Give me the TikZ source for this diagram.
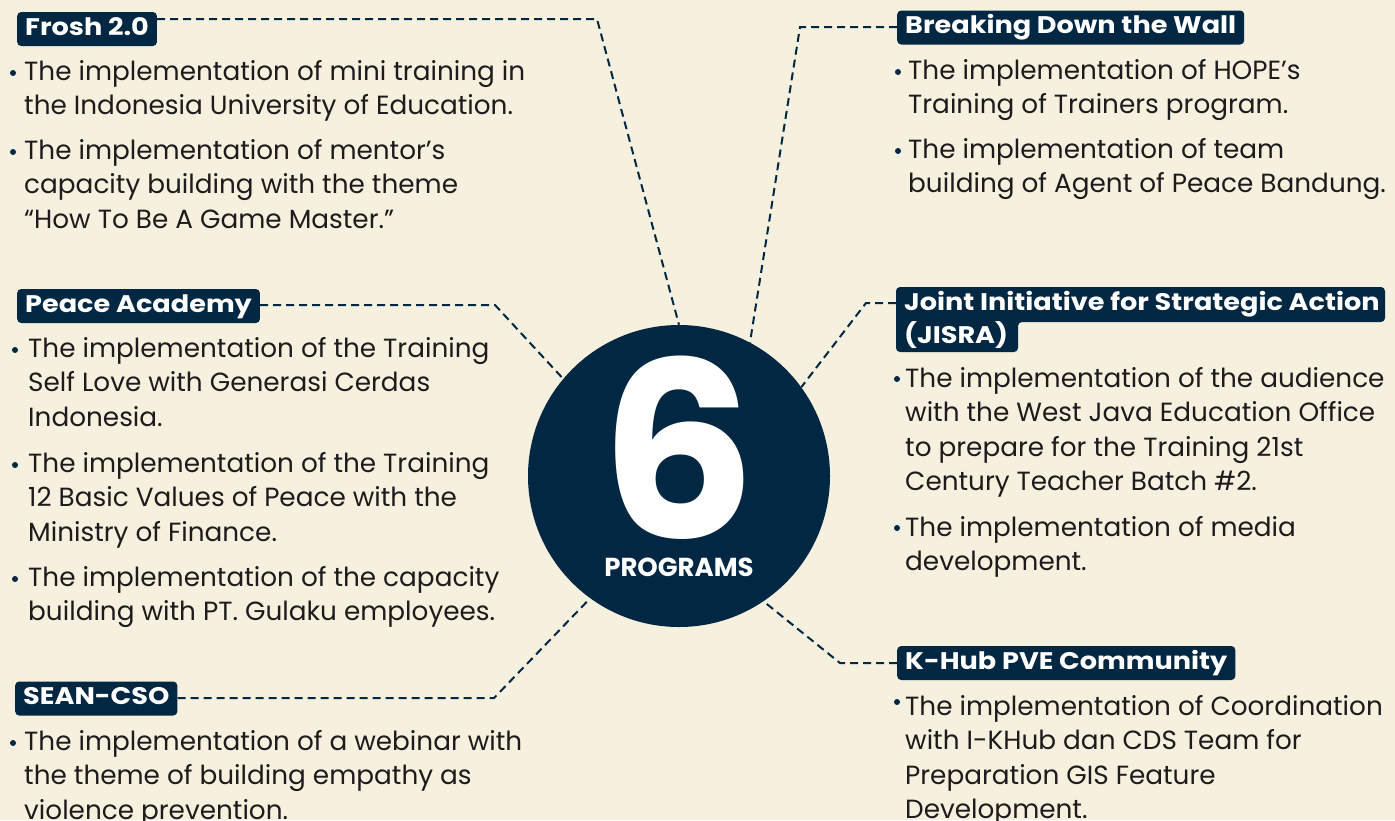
\documentclass[tikz,border=0pt]{standalone}
\usepackage{fontspec}
\setmainfont{Poppins}
\newfontfamily\hdrfont{Poppins}[FakeStretch=1.13]
\definecolor{navy}{RGB}{2,39,66}
\definecolor{cream}{RGB}{246,240,223}
\definecolor{ink}{RGB}{30,27,28}
\begin{document}
\begin{tikzpicture}[x=1pt,y=-1pt,
  hdr/.style={fill=navy, text=white, rounded corners=4pt, anchor=west,
    font=\hdrfont\bfseries\fontsize{24}{28}\selectfont, inner xsep=8pt, inner ysep=6pt,
    text height=17pt, text depth=5pt},
  hdrtext/.style={text=white, anchor=west,
    font=\hdrfont\bfseries\fontsize{24}{28}\selectfont, inner xsep=8pt, inner ysep=6pt,
    text height=17pt, text depth=5pt},
  body/.style={anchor=north west, align=left, inner sep=0pt, text=ink,
    font=\fontsize{26.3}{34.5}\selectfont, yshift=24.15pt},
  dot/.style={circle, fill=navy, inner sep=0pt, minimum size=6pt},
  conn/.style={navy, line width=2pt, dash pattern=on 8pt off 5pt}]
\fill[cream] (0,0) rectangle (1395,820);
\useasboundingbox (0,0) rectangle (1395,820);

% central circle
\node[circle, fill=navy, minimum size=302pt, inner sep=0pt] (c) at (679,476) {};

% headers
\node[hdr] (frosh) at (17,29) {Frosh 2.0};
\node[hdr] (brk) at (897,27.5) {Breaking Down the Wall};
\node[hdr] (peace) at (17,306) {Peace Academy};
\fill[navy, rounded corners=4pt] (896,287) -- (1385,287) -- (1385,322) -- (1018,322) -- (1018,352) -- (896,352) -- cycle;
\node[hdrtext] (jisra) at (896,304.5) {Joint Initiative for Strategic Action};
\node[hdrtext] (jisra2) at (896,337) {(JISRA)};
\node[hdr] (sean) at (15,698.5) {SEAN-CSO};
\node[hdr] (khub) at (897,663) {K-Hub PVE Community};

% connectors
\coordinate (fk) at (597,19);
\coordinate (bk) at (800,27);
\coordinate (pk) at (495,305);
\coordinate (jk) at (866,303);
\coordinate (sk) at (494,698);
\coordinate (kk) at (840,663);
\draw[conn] (frosh.east |- fk) -- (fk) -- (c.90);
\draw[conn] (brk.west |- bk) -- (bk) -- (c.62);
\draw[conn] (peace.east |- pk) -- (pk) -- (c.140);
\draw[conn] (jisra.west |- jk) -- (jk) -- (c.36);
\draw[conn] (sean.east |- sk) -- (sk) -- (c.234);
\draw[conn] (khub.west |- kk) -- (kk) -- (c.304);

% circle text
\node[text=white, inner sep=0pt, font=\bfseries\fontsize{245}{245}\selectfont] (six) at (679,448) {6};
\node[text=white, inner sep=0pt, font=\bfseries\fontsize{26}{26}\selectfont] (prog) at (679,567) {PROGRAMS};

% Frosh bullets
\node[dot] (fd1) at (13,73) {};
\node[body] (ft1) at (24,80) {\strut The implementation of mini training in\\the Indonesia University of Education.};
\node[dot] (fd2) at (13,152) {};
\node[body] (ft2) at (24,159) {\strut The implementation of mentor’s\\capacity building with the theme\\“How To Be A Game Master.”};

% Peace bullets
\node[dot] (pd1) at (15,350) {};
\node[body] (pt1) at (28,357) {\strut The implementation of the Training\\Self Love with Generasi Cerdas\\Indonesia.};
\node[dot] (pd2) at (15,465) {};
\node[body] (pt2) at (28,472) {\strut The implementation of the Training\\12 Basic Values of Peace with the\\Ministry of Finance.};
\node[dot] (pd3) at (15,579) {};
\node[body] (pt3) at (28,586) {\strut The implementation of the capacity\\building with PT. Gulaku employees.};

% SEAN bullet
\node[dot] (sd1) at (13,743) {};
\node[body] (st1) at (24,750) {\strut The implementation of a webinar with\\the theme of building empathy as\\violence prevention.};

% Breaking bullets
\node[dot] (bd1) at (898,72) {};
\node[body] (bt1) at (908,79) {\strut The implementation of HOPE’s\\Training of Trainers program.};
\node[dot] (bd2) at (898,151) {};
\node[body] (bt2) at (908,158) {\strut The implementation of team\\building of Agent of Peace Bandung.};

% JISRA bullets
\node[dot] (jd1) at (897,379) {};
\node[body] (jt1) at (905,387) {\strut The implementation of the audience\\with the West Java Education Office\\to prepare for the Training 21st\\Century Teacher Batch \#2.};
\node[dot] (jd2) at (897,528) {};
\node[body] (jt2) at (905,536) {\strut The implementation of media\\development.};

% K-Hub bullet
\node[dot] (kd1) at (897,702) {};
\node[body] (kt1) at (905,715) {\strut The implementation of Coordination\\with I-KHub dan CDS Team for\\Preparation GIS Feature\\Development.};
\end{tikzpicture}
\end{document}
